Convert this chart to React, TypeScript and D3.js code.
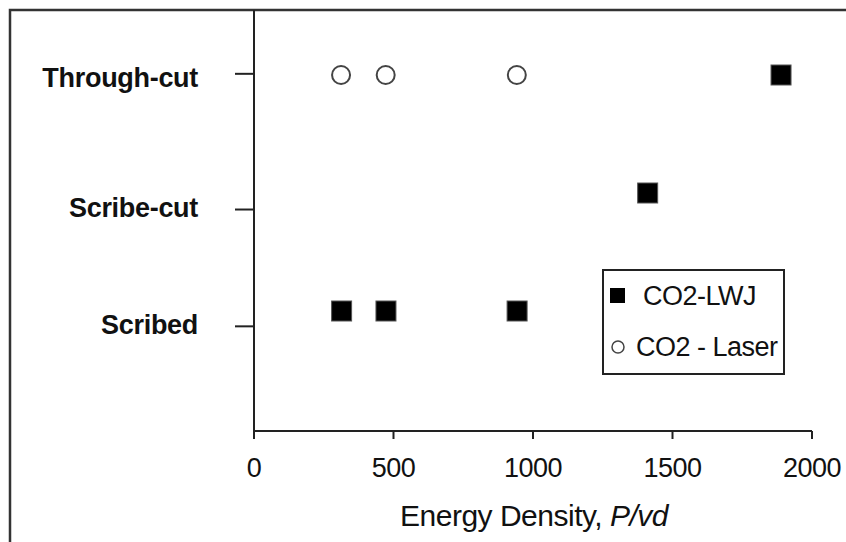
import React from "react";
import * as d3 from "d3";

// Data
const lwjX = [314, 473, 943, 1411, 1889];
const lwjY = [1, 1, 1, 2, 3];
const laserX = [312, 472, 942];
const laserY = [3, 3, 3];
const categoryLabels = ["Through-cut", "Scribe-cut", "Scribed"];
const categoryTickValues = [3.01, 1.86, 0.87];
const xTicks = [0, 500, 1000, 1500, 2000];
const seriesNames = ["CO2-LWJ", "CO2 - Laser"];

const W = 846;
const H = 542;

export default function App() {
  const x = d3.scaleLinear().domain([0, 2000]).range([254, 812]);
  const y = d3.scaleLinear().domain([0, 3.5]).range([429, 16]);
  const axisY = 431;
  const plotTop = 10;
  const font = "'Liberation Sans', Arial, sans-serif";
  const lwj = lwjX.map((v, i) => ({ x: v, y: lwjY[i] }));
  const laser = laserX.map((v, i) => ({ x: v, y: laserY[i] }));
  const sq = 20;
  const labelDy = [13, 7, 8];
  return (
    <svg
      width={W}
      height={H}
      style={{ position: "absolute", left: 0, top: 0, background: "#fff" }}
      fontFamily={font}
    >
      <rect x={0} y={0} width={W} height={H} fill="#fff" />
      {/* outer frame */}
      <rect x={10} y={10} width={W + 50} height={H + 50} fill="none" stroke="#333" strokeWidth={2.5} />
      {/* y axis */}
      <line x1={x(0)} x2={x(0)} y1={plotTop} y2={axisY} stroke="#222" strokeWidth={2} />
      {categoryTickValues.map((v, i) => (
        <g key={i}>
          <line x1={x(0) - 19} x2={x(0)} y1={y(v)} y2={y(v)} stroke="#222" strokeWidth={2} />
          <text
            x={198}
            y={y(v) + labelDy[i]}
            textAnchor="end"
            fontSize={27}
            fontWeight="bold"
            letterSpacing={-0.3}
            fill="#111"
          >
            {categoryLabels[i]}
          </text>
        </g>
      ))}
      {/* x axis */}
      <line x1={x(0)} x2={x(2000)} y1={axisY} y2={axisY} stroke="#222" strokeWidth={2} />
      {xTicks.map((t) => (
        <g key={t}>
          <line x1={x(t)} x2={x(t)} y1={axisY} y2={axisY + 8} stroke="#222" strokeWidth={2} />
          <text x={x(t)} y={477} textAnchor="middle" fontSize={27} letterSpacing={-0.5} fill="#111">
            {t}
          </text>
        </g>
      ))}
      <text x={534} y={526} textAnchor="middle" fontSize={30} letterSpacing={-0.5} fill="#111">
        Energy Density, <tspan fontStyle="italic">P/vd</tspan>
      </text>
      {/* data */}
      {laser.map((d, i) => (
        <circle key={"c" + i} cx={x(d.x)} cy={y(d.y)} r={9} fill="#fff" stroke="#444" strokeWidth={2} />
      ))}
      {lwj.map((d, i) => (
        <rect key={"s" + i} x={x(d.x) - sq / 2} y={y(d.y) - sq / 2} width={sq} height={sq} fill="#000" stroke="#555" strokeWidth={1} />
      ))}
      {/* legend */}
      <rect x={603} y={270} width={181} height={104} fill="#fff" stroke="#222" strokeWidth={2} />
      <rect x={610} y={288} width={15} height={15} fill="#000" />
      <text x={643} y={305} fontSize={27} letterSpacing={-0.5} fill="#111">
        {seriesNames[0]}
      </text>
      <circle cx={618} cy={347} r={6} fill="#fff" stroke="#444" strokeWidth={1.5} />
      <text x={636} y={356} fontSize={27} letterSpacing={-0.5} fill="#111">
        {seriesNames[1]}
      </text>
    </svg>
  );
}
